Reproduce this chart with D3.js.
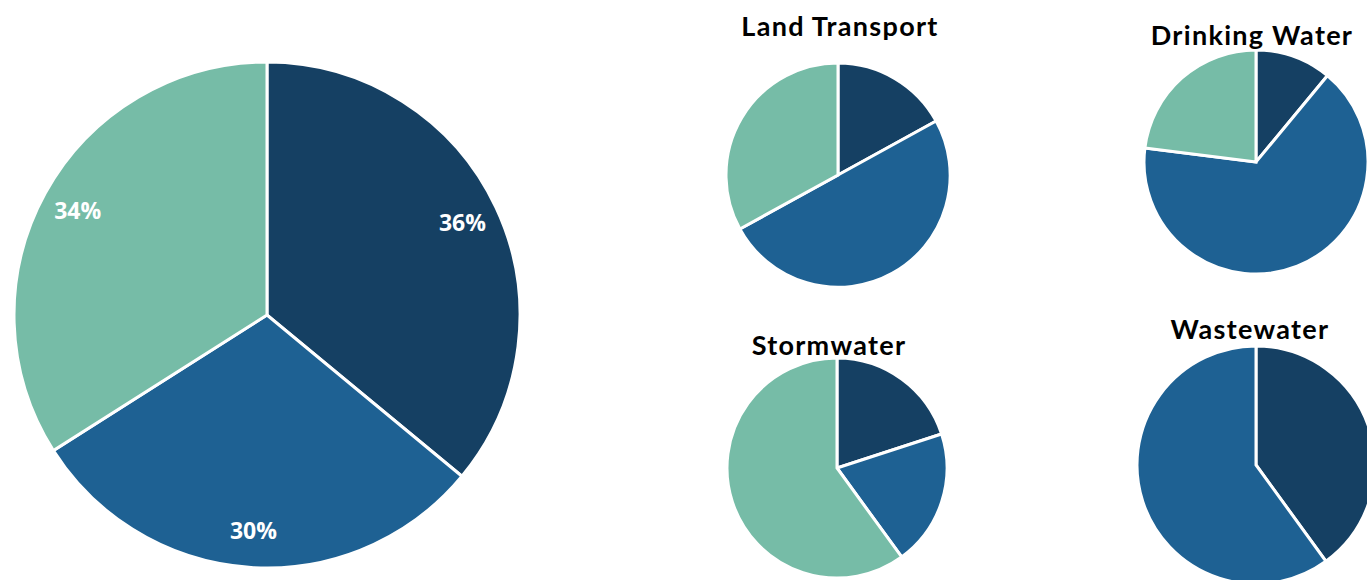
<!DOCTYPE html>
<html>
<head>
<meta charset="utf-8">
<script src="https://cdn.jsdelivr.net/npm/d3@7"></script>
<style>
  html, body { margin: 0; padding: 0; background: #fff; overflow: hidden; }
  svg { display: block; }
</style>
</head>
<body>
<svg id="chart" width="1367" height="580"></svg>
<script>
// Share of spending by component (percent), same slice order in every pie
const overallShares = [36, 30, 34];
const sectorNames = ["Land Transport", "Drinking Water", "Stormwater", "Wastewater"];
const landTransportShares = [17, 50, 33];
const drinkingWaterShares = [11, 66, 23];
const stormwaterShares = [20, 20, 60];
const wastewaterShares = [40, 60, 0];
const sliceColors = ["#154063", "#1e6193", "#76bca7"];

const svg = d3.select("#chart");
const pie = d3.pie().sort(null).value(d => d);
const color = d3.scaleOrdinal().domain(d3.range(3)).range(sliceColors);

function drawPie(values, cx, cy, r, opts) {
  const g = svg.append("g").attr("transform", `translate(${cx},${cy})`);
  const arc = d3.arc().innerRadius(0).outerRadius(r);
  const arcs = pie(values);
  g.selectAll("path")
    .data(arcs.filter(d => d.value > 0))
    .join("path")
    .attr("d", arc)
    .attr("fill", d => color(d.index))
    .attr("stroke", "#fff")
    .attr("stroke-width", opts.stroke)
    .attr("stroke-linejoin", "miter");
  if (opts.labels) {
    const labelArc = d3.arc().innerRadius(opts.labelR).outerRadius(opts.labelR);
    g.selectAll("text")
      .data(arcs)
      .join("text")
      .attr("transform", d => `translate(${labelArc.centroid(d)})`)
      .attr("text-anchor", "middle")
      .attr("dy", "0.35em")
      .attr("fill", "#fff")
      .style("font-family", "'Open Sans', sans-serif")
      .style("font-weight", 700)
      .style("font-size", "23px")
      .text(d => d.value + "%");
  }
  return g;
}

function drawTitle(text, x, y) {
  svg.append("text")
    .attr("x", x).attr("y", y)
    .attr("text-anchor", "middle")
    .attr("fill", "#000")
    .style("font-family", "Lato, 'Open Sans', sans-serif")
    .style("font-weight", 700)
    .style("font-size", "27px")
    .style("letter-spacing", "1.3px")
    .text(text);
}

// Overall breakdown
drawPie(overallShares, 267, 315, 253, { stroke: 3, labels: true, labelR: 216 });

// Sector breakdowns
const sectorShares = [landTransportShares, drinkingWaterShares, stormwaterShares, wastewaterShares];
const sectorLayout = [
  { cx: 838, cy: 175, r: 112, tx: 840, ty: 36 },
  { cx: 1256, cy: 162, r: 112, tx: 1252, ty: 45 },
  { cx: 837, cy: 468, r: 110, tx: 829, ty: 355 },
  { cx: 1256, cy: 465, r: 119, tx: 1250, ty: 339 }
];
sectorShares.forEach((vals, i) => {
  const L = sectorLayout[i];
  drawPie(vals, L.cx, L.cy, L.r, { stroke: 3, labels: false });
  drawTitle(sectorNames[i], L.tx, L.ty);
});
</script>
</body>
</html>
